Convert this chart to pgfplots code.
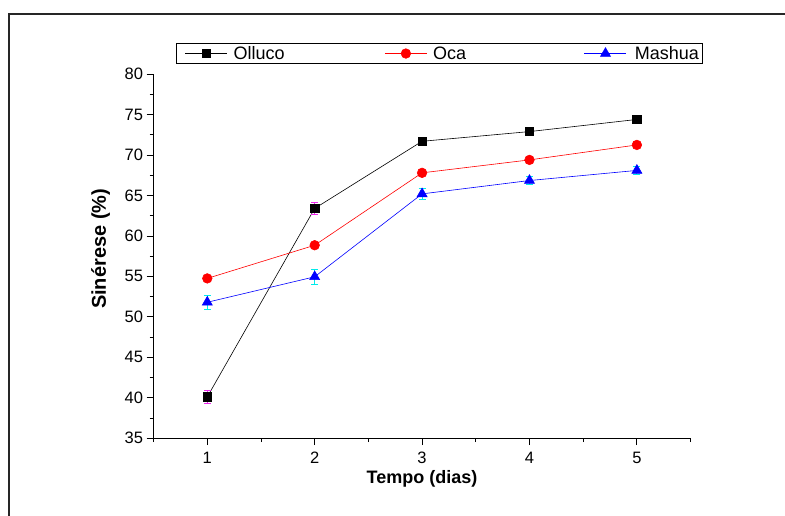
\documentclass[border=0pt]{standalone}
\usepackage{fontspec}
\setmainfont{Liberation Sans}
\usepackage{pgfplots}
\pgfplotsset{compat=1.18}
\usepackage{pgfplotstable}

\definecolor{errmag}{RGB}{235,40,235}
\definecolor{errcyan}{RGB}{0,235,235}

\pgfplotstableread{
x y e
1 40.1 0.8
2 63.4 0.7
3 71.7 0.3
4 72.9 0.3
5 74.4 0.3
}\olluco
\pgfplotstableread{
x y e
1 54.75 0.3
2 58.85 0.3
3 67.8 0.3
4 69.4 0.3
5 71.25 0.3
}\oca
\pgfplotstableread{
x y e
1 51.8 0.85
2 54.95 0.9
3 65.2 0.7
4 66.85 0.5
5 68.1 0.5
}\mashua

\begin{document}
\begin{tikzpicture}[x=1pt,y=1pt]
\useasboundingbox (0,0) rectangle (785,515);
\clip (0,0) rectangle (785,515);
\draw[line width=1.5pt, black!85] (9,501) rectangle (820,-30);
\begin{axis}[
  at={(143,95)}, anchor=south west,
  scale only axis, width=537pt, height=364pt,
  xmin=0.5, xmax=5.5, ymin=35, ymax=80,
  axis x line*=bottom, axis y line*=left,
  axis line style={line width=0.9pt, black},
  xtick={1,2,3,4,5},
  minor xtick={0.5,1.5,2.5,3.5,4.5,5.5},
  ytick={35,40,...,80},
  minor ytick={37.5,42.5,...,77.5},
  tick align=outside,
  major tick length=7pt, minor tick length=4pt,
  every tick/.style={black, line width=0.8pt},
  /pgf/number format/assume math mode=true,
  tick label style={font=\fontsize{16.5}{19}\selectfont},
  xticklabel style={yshift=-3pt},
  xlabel={Tempo (dias)},
  ylabel={Sinérese (\%)},
  xlabel style={font=\bfseries\fontsize{18}{20}\selectfont, at={(axis description cs:0.5,-0.125)}, anchor=base},
  ylabel style={font=\bfseries\fontsize{20}{22}\selectfont, at={(axis description cs:-0.0987,0.52)}, anchor=center, rotate=0},
  legend columns=3,
  legend image code/.code={\draw[mark repeat=2,mark phase=2,#1] plot coordinates {(0pt,0pt) (21pt,0pt) (42pt,0pt)};},
  legend style={at={(rel axis cs:0.041,1.086)}, anchor=north west, draw=black, line width=0.8pt,
    font=\fontsize{18}{20}\selectfont, inner xsep=9pt, inner ysep=1.5pt,
    nodes={inner xsep=3pt, inner ysep=1.5pt},
    /tikz/every even column/.append style={column sep=0pt}},
  legend cell align=left,
]
\addplot[black, line width=0.6pt, mark=square*, mark size=4.2pt, mark options={solid, fill=black},
  error bars/.cd, y dir=both, y explicit,
  error bar style={errmag, line width=0.8pt},
  error mark options={errmag, rotate=90, mark size=3.5pt, line width=0.8pt}]
  table[x=x, y=y, y error=e] {\olluco};
\addlegendentry{\hspace*{3pt}\makebox[148pt][l]{Olluco}}
\addplot[red, line width=0.6pt, mark=*, mark size=4.8pt, mark options={solid, fill=red},
  error bars/.cd, y dir=both, y explicit,
  error bar style={red, line width=0.8pt},
  error mark options={red, rotate=90, mark size=3.5pt, line width=0.8pt}]
  table[x=x, y=y, y error=e] {\oca};
\addlegendentry{\hspace*{3pt}\makebox[148pt][l]{Oca}}
\addplot[blue, line width=0.6pt, mark=triangle*, mark size=5.8pt, mark options={solid, fill=blue},
  error bars/.cd, y dir=both, y explicit,
  error bar style={errcyan, line width=0.8pt},
  error mark options={errcyan, rotate=90, mark size=3.5pt, line width=0.8pt}]
  table[x=x, y=y, y error=e] {\mashua};
\addlegendentry{\hspace*{5pt}Mashua\hspace*{-8pt}}
\end{axis}
\end{tikzpicture}
\end{document}
